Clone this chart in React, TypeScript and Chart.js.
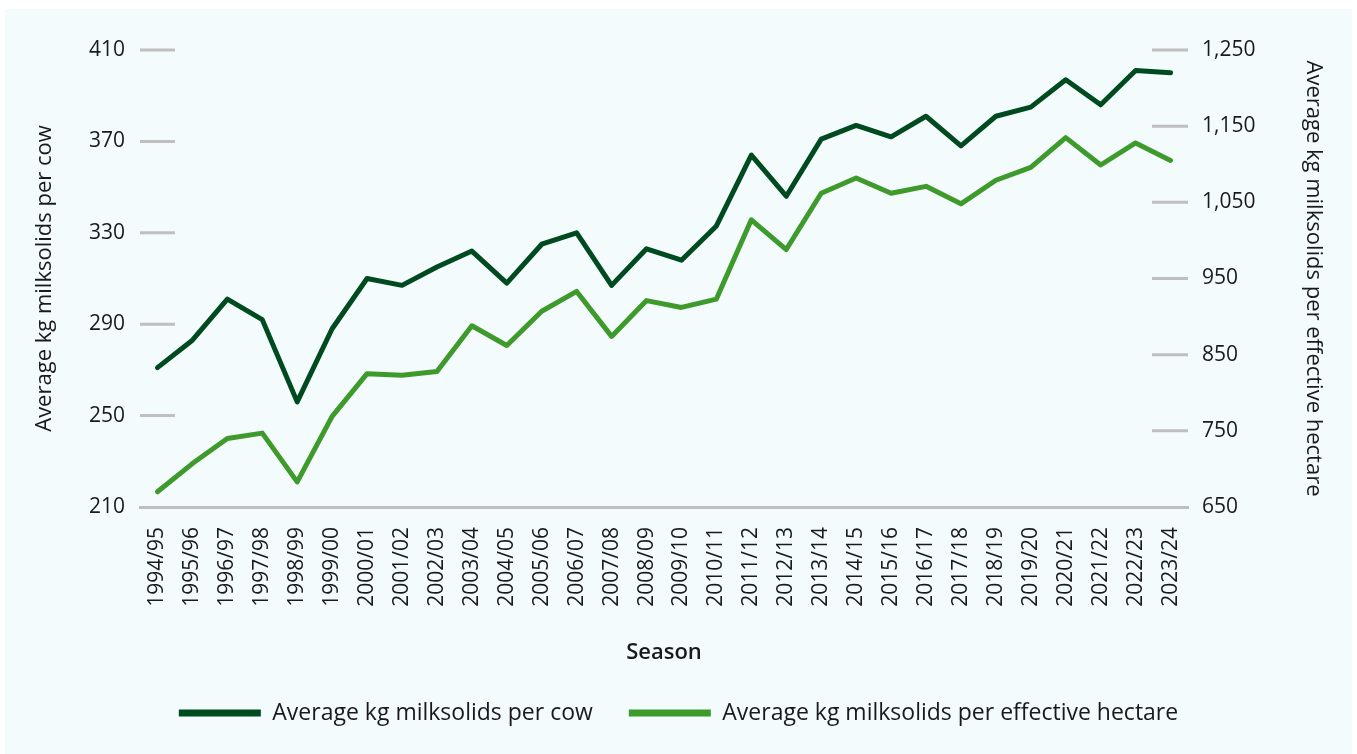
import { useEffect, useRef } from "react";
import { Chart, registerables } from "chart.js";

Chart.register(...registerables);

const seasons = [
  "1994/95", "1995/96", "1996/97", "1997/98", "1998/99", "1999/00",
  "2000/01", "2001/02", "2002/03", "2003/04", "2004/05", "2005/06",
  "2006/07", "2007/08", "2008/09", "2009/10", "2010/11", "2011/12",
  "2012/13", "2013/14", "2014/15", "2015/16", "2016/17", "2017/18",
  "2018/19", "2019/20", "2020/21", "2021/22", "2022/23", "2023/24",
];

const perCow = [
  271, 283, 301, 292, 256, 288, 310, 307, 315, 322, 308, 325,
  330, 307, 323, 318, 333, 364, 346, 371, 377, 372, 381, 368,
  381, 385, 397, 386, 401, 400,
];

const perHectare = [
  670, 707, 740, 747, 683, 769, 825, 823, 828, 888, 862, 907,
  933, 874, 921, 912, 923, 1027, 988, 1062, 1082, 1062, 1071, 1048,
  1079, 1096, 1135, 1099, 1128, 1105,
];

const cowLabel = "Average kg milksolids per cow";
const hectareLabel = "Average kg milksolids per effective hectare";
const xTitle = "Season";

const TEXT = "#1a1a1a";
const GREY = "#bfbfbf";
const DARK = "#004a1f";
const LIGHT = "#3e9a2b";
const FONT = "'Open Sans', sans-serif";

const tickMarks = {
  id: "tickMarks",
  beforeDatasetsDraw(chart: any) {
    const { ctx, chartArea, scales } = chart;
    ctx.save();
    ctx.strokeStyle = GREY;
    ctx.lineWidth = 3;
    const y = scales.y;
    y.ticks.forEach((t: any) => {
      if (t.value === y.min) return;
      const py = y.getPixelForValue(t.value);
      ctx.beginPath();
      ctx.moveTo(chartArea.left, py);
      ctx.lineTo(chartArea.left + 35, py);
      ctx.stroke();
    });
    const y1 = scales.y1;
    y1.ticks.forEach((t: any) => {
      if (t.value === y1.min) return;
      const py = y1.getPixelForValue(t.value);
      ctx.beginPath();
      ctx.moveTo(chartArea.right - 36, py);
      ctx.lineTo(chartArea.right, py);
      ctx.stroke();
    });
    ctx.restore();
  },
};

export default function App() {
  const ref = useRef<HTMLCanvasElement>(null);

  useEffect(() => {
    if (!ref.current) return;
    const chart = new Chart(ref.current, {
      type: "line",
      data: {
        labels: seasons,
        datasets: [
          {
            label: cowLabel,
            data: perCow,
            yAxisID: "y",
            borderColor: DARK,
            backgroundColor: DARK,
            borderWidth: 5,
            pointRadius: 0,
            tension: 0,
            borderCapStyle: "round",
            borderJoinStyle: "round",
          },
          {
            label: hectareLabel,
            data: perHectare,
            yAxisID: "y1",
            borderColor: LIGHT,
            backgroundColor: LIGHT,
            borderWidth: 5,
            pointRadius: 0,
            tension: 0,
            borderCapStyle: "round",
            borderJoinStyle: "round",
          },
        ],
      },
      options: {
        responsive: false,
        animation: false,
        devicePixelRatio: 1,
        layout: { padding: { top: 41, left: 0, right: 0, bottom: 19.5 } },
        plugins: {
          tooltip: { enabled: false },
          legend: {
            position: "bottom",
            labels: {
              boxWidth: 82,
              boxHeight: 7,
              padding: 36,
              color: TEXT,
              font: { family: FONT, size: 23 },
              generateLabels: (chart: any) =>
                Chart.defaults.plugins.legend.labels
                  .generateLabels(chart)
                  .map((l: any) => ({ ...l, lineWidth: 0 })),
            },
          },
        },
        scales: {
          x: {
            type: "category",
            offset: true,
            grid: { display: true, drawOnChartArea: false, drawTicks: false, color: "rgba(0,0,0,0)" },
            border: { display: true, color: GREY, width: 3 },
            ticks: {
              minRotation: 90,
              maxRotation: 90,
              autoSkip: false,
              padding: 20,
              color: TEXT,
              font: { family: FONT, size: 21 },
            },
            title: {
              display: true,
              text: xTitle,
              color: TEXT,
              font: { family: FONT, size: 22, weight: "600" },
              padding: { top: 0, bottom: 0 },
            },
            afterFit: (s: any) => { s.height = 158.5; },
          },
          y: {
            position: "left",
            min: 210,
            max: 410,
            grid: { display: false, drawTicks: false },
            border: { display: false },
            ticks: {
              stepSize: 40,
              padding: 15,
              color: TEXT,
              font: { family: FONT, size: 21 },
            },
            title: {
              display: true,
              text: cowLabel,
              color: TEXT,
              font: { family: FONT, size: 22 },
              padding: { top: 27, bottom: 0 },
            },
            afterFit: (s: any) => { s.width = 135; },
          },
          y1: {
            position: "right",
            min: 650,
            max: 1250,
            grid: { display: false, drawTicks: false },
            border: { display: false },
            ticks: {
              stepSize: 100,
              padding: 14,
              color: TEXT,
              font: { family: FONT, size: 21 },
            },
            title: {
              display: true,
              text: hectareLabel,
              color: TEXT,
              font: { family: FONT, size: 22 },
              padding: { top: 26, bottom: 0 },
            },
            afterFit: (s: any) => { s.width = 164; },
          },
        },
      },
      plugins: [tickMarks],
    });
    return () => chart.destroy();
  }, []);

  return (
    <div
      style={{
        position: "absolute",
        left: 5,
        top: 9,
        width: 1347,
        height: 745,
        background: "#f3fbfd",
      }}
    >
      <canvas ref={ref} width={1347} height={745} style={{ display: "block" }} />
    </div>
  );
}
